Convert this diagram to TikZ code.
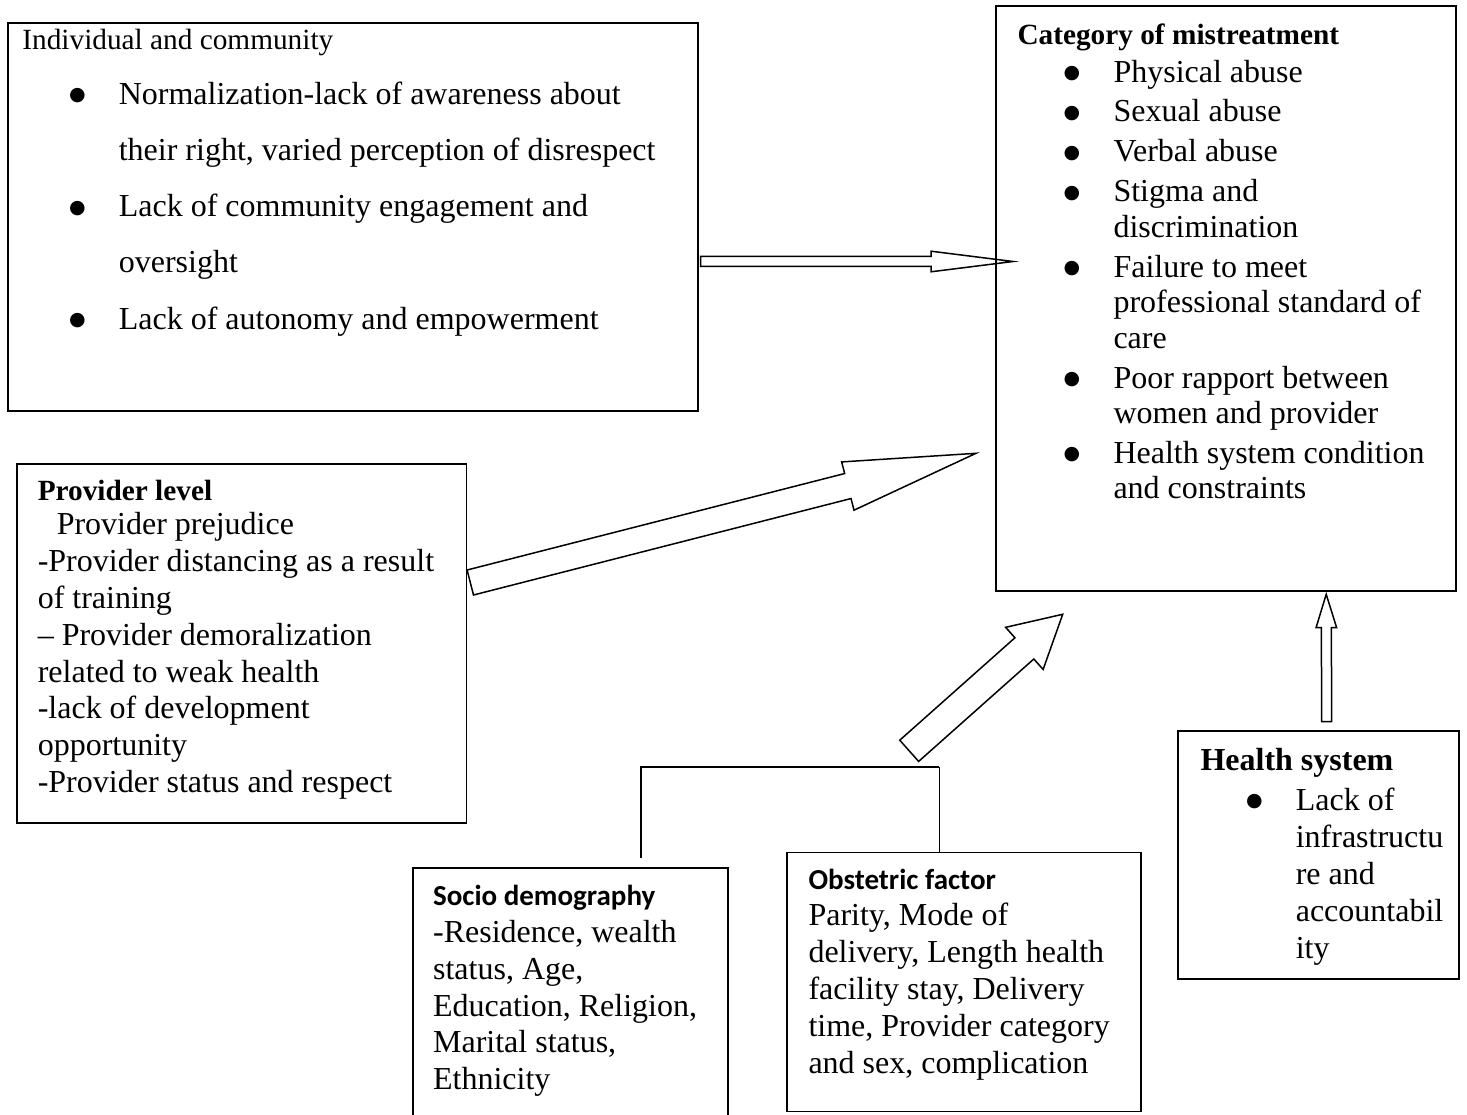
\documentclass[tikz,border=0pt]{standalone}
\usepackage{fontspec}
\setmainfont{Liberation Serif}
\newfontfamily\calibri{Carlito}
\newfontfamily\dejavu{DejaVu Sans}
\usetikzlibrary{calc}

\newcommand{\boxtext}[4]{\parbox[t][#2pt][t]{#1pt}{\parskip=0pt\parindent=0pt\rightskip=0pt plus 1fil\hbadness=10000\rule{0pt}{#3pt}#4}}
\newcommand{\bul}{\noindent\llap{\makebox[0pt]{\raisebox{3.5pt}{\dejavu\fontsize{19}{19}\selectfont ●}}\hspace{41.5pt}}}
\newcommand{\hollowarrow}[6]{%
  \coordinate (#1-b) at ($(#3)!#6pt!(#2)$);
  \draw[blockarrow] ($(#2)!#4pt!90:(#3)$) -- ($(#1-b)!#4pt!90:(#3)$) -- ($(#1-b)!#5pt!90:(#3)$) -- (#3)
    -- ($(#1-b)!#5pt!-90:(#3)$) -- ($(#1-b)!#4pt!-90:(#3)$) -- ($(#2)!#4pt!-90:(#3)$) -- cycle;}

\tikzset{
  panel/.style={draw, line width=1.6pt, inner sep=0pt, anchor=north west},
  blockarrow/.style={draw, line width=1.5pt, line join=miter},
  link/.style={draw, line width=1.6pt}
}

\begin{document}
\begin{tikzpicture}[x=1pt, y=-1pt]
\clip (0,0) rectangle (1467,1115);

\node[panel] (indiv) at (7,22) {\boxtext{690}{388}{26.3}{\leftskip=14.6pt\relax
  \fontsize{29.3}{30}\selectfont Individual and community\par
  \fontsize{32}{56.25}\selectfont\leftskip=111pt\relax\vspace{-1.25pt}
  \bul Normalization-lack of awareness about\\their right, varied perception of disrespect\par
  \bul Lack of community engagement and\\oversight\par
  \bul Lack of autonomy and empowerment\par}};

\node[panel] (cat) at (995,5) {\boxtext{460}{585}{39}{\leftskip=21.7pt\relax
  \bfseries\fontsize{29.3}{30}\selectfont Category of mistreatment\par
  \mdseries\fontsize{32}{35.5}\selectfont\leftskip=117.7pt\relax\parskip=4.4pt\relax\vspace{-2.6pt}
  \bul Physical abuse\par
  \bul Sexual abuse\par
  \bul Verbal abuse\par
  \bul Stigma and\\discrimination\par
  \bul Failure to meet\\professional standard of\\care\par
  \bul Poor rapport between\\women and provider\par
  \bul Health system condition\\and constraints\par}};

\node[panel] (prov) at (16,463) {\boxtext{449.6}{359}{37}{\leftskip=21pt\relax
  \bfseries\fontsize{29.3}{30}\selectfont Provider level\par
  \mdseries\fontsize{32}{36.8}\selectfont\vspace{-2.8pt}
  \hspace*{19pt}Provider prejudice\\
  -Provider distancing as a result\\
  of training\\
  -- Provider demoralization\\
  related to weak health\\
  -lack of development\\
  opportunity\\
  -Provider status and respect\par}};

\node[panel] (socio) at (412,867) {\boxtext{315}{280}{37.3}{\leftskip=20.3pt\relax
  \calibri\bfseries\fontsize{29}{30}\selectfont Socio demography\par
  \normalfont\fontsize{32}{36.7}\selectfont\vspace{0.8pt}
  -Residence, wealth\\
  status, Age,\\
  Education, Religion,\\
  Marital status,\\
  Ethnicity\par}};

\node[panel] (obst) at (786.3,851.5) {\boxtext{354}{259}{37.4}{\leftskip=21.4pt\relax
  \calibri\bfseries\fontsize{29}{30}\selectfont Obstetric factor\par
  \normalfont\fontsize{32}{37.1}\selectfont\vspace{-1.3pt}
  Parity, Mode of\\
  delivery, Length health\\
  facility stay, Delivery\\
  time, Provider category\\
  and sex, complication\par}};

\node[panel] (health) at (1177,730) {\boxtext{281}{248}{39.4}{\leftskip=22.7pt\relax
  \bfseries\fontsize{32}{30}\selectfont Health system\par
  \mdseries\fontsize{32}{37}\selectfont\leftskip=118pt\relax\vspace{2.8pt}
  \bul Lack of\\infrastructu\\re and\\accountabil\\ity\par}};

\coordinate (a1t) at (700.7,261.5);
\coordinate (a1h) at (1013,261.5);
\coordinate (a2t) at (470.3,582.5);
\coordinate (a2h) at (976,453.3);
\coordinate (a3t) at (909.2,750.8);
\coordinate (a3h) at (1062.7,614.3);
\coordinate (a4t) at (1326.7,721.7);
\coordinate (a4h) at (1326.2,594.3);

\hollowarrow{a1}{a1t}{a1h}{5}{10.3}{82}
\hollowarrow{a2}{a2t}{a2h}{12.9}{24.9}{132.3}
\hollowarrow{a3}{a3t}{a3h}{14.2}{28.2}{51.3}
\hollowarrow{a4}{a4t}{a4h}{5}{10.3}{33.4}

\coordinate (sd) at (641,858);
\coordinate (brk) at (939.3,767);
\draw[link] (sd) |- (brk);
\draw[link] (brk) -- (brk |- obst.north);
\end{tikzpicture}
\end{document}
